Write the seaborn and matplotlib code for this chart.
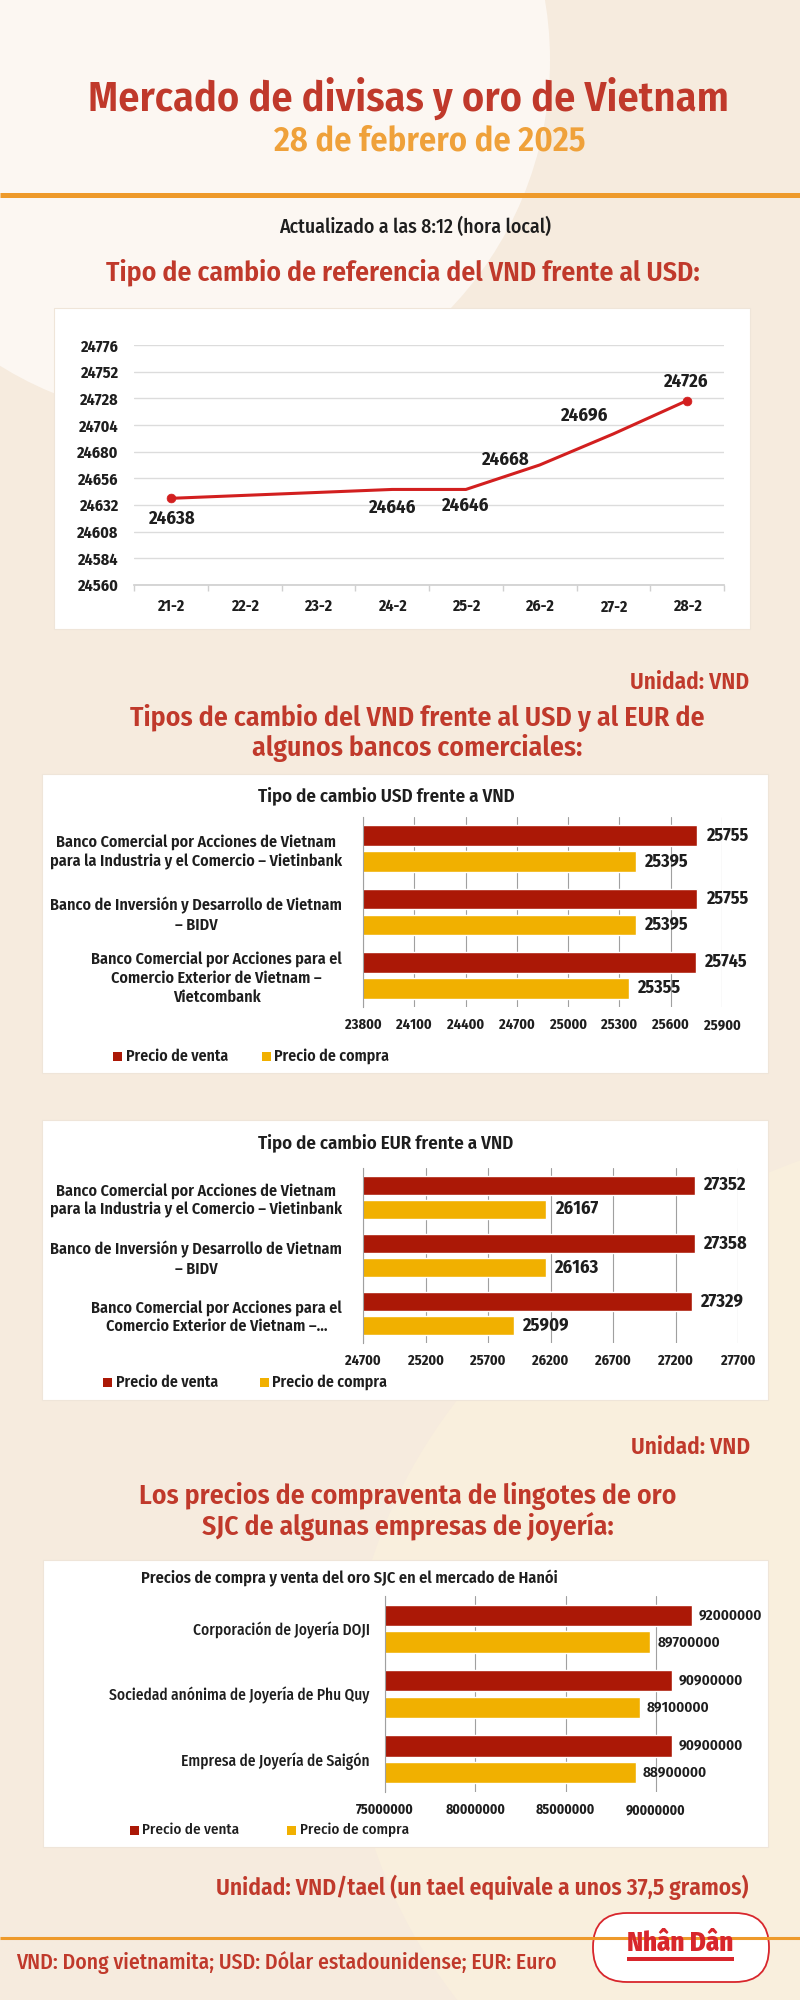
import numpy as np
import pandas as pd
import matplotlib
matplotlib.use("Agg")
import matplotlib.pyplot as plt
import matplotlib.patches as mpatches
from matplotlib import font_manager as fm
import seaborn as sns

# ---------------- data ----------------
ref_dates = ["21-2", "22-2", "23-2", "24-2", "25-2", "26-2", "27-2", "28-2"]
ref_rate = [24638, np.nan, np.nan, 24646, 24646, 24668, 24696, 24726]
ref_ticks = [24560, 24584, 24608, 24632, 24656, 24680, 24704, 24728, 24752, 24776]

usd_banks = [
    "Banco Comercial por Acciones de Vietnam\npara la Industria y el Comercio – Vietinbank",
    "Banco de Inversión y Desarrollo de Vietnam\n– BIDV",
    "Banco Comercial por Acciones para el\nComercio Exterior de Vietnam –\nVietcombank",
]
usd_venta = [25755, 25755, 25745]
usd_compra = [25395, 25395, 25355]
usd_ticks = [23800, 24100, 24400, 24700, 25000, 25300, 25600, 25900]

eur_banks = [
    "Banco Comercial por Acciones de Vietnam\npara la Industria y el Comercio – Vietinbank",
    "Banco de Inversión y Desarrollo de Vietnam\n– BIDV",
    "Banco Comercial por Acciones para el\nComercio Exterior de Vietnam –...",
]
eur_venta = [27352, 27358, 27329]
eur_compra = [26167, 26163, 25909]
eur_ticks = [24700, 25200, 25700, 26200, 26700, 27200, 27700]

gold_firms = [
    "Corporación de Joyería DOJI",
    "Sociedad anónima de Joyería de Phu Quy",
    "Empresa de Joyería de Saigón",
]
gold_venta = [92000000, 90900000, 90900000]
gold_compra = [89700000, 89100000, 88900000]
gold_ticks = [75000000, 80000000, 85000000, 90000000]

series_names = ["Precio de venta", "Precio de compra"]

# ---------------- style ----------------
sns.set_theme(style="white")
names = {f.name for f in fm.fontManager.ttflist}
FONT = "Fira Sans Condensed" if "Fira Sans Condensed" in names else "Roboto"
plt.rcParams["font.family"] = [FONT, "DejaVu Sans"]

BG = "#F6EBDE"
RED_T = "#C0392B"
ORANGE = "#EFA13A"
RED_BAR = "#AB1806"
YEL = "#F1B000"
LINE_RED = "#D21F1F"
DARK = "#1E1E1E"

W, H = 800, 2000
fig = plt.figure(figsize=(8, 20), dpi=100)
fig.patch.set_facecolor(BG)
renderer = fig.canvas.get_renderer()


def size_for(s, target_px, weight="bold"):
    t = fig.text(0, 0, s, fontsize=10, fontweight=weight)
    w = t.get_window_extent(renderer=renderer).width
    t.remove()
    return 10.0 * target_px / w


def add_axes_px(x0, y0, x1, y1):
    return fig.add_axes([x0 / W, 1 - y1 / H, (x1 - x0) / W, (y1 - y0) / H])


bg = fig.add_axes([0, 0, 1, 1])
bg.set_zorder(-1)
bg.set_xlim(0, W)
bg.set_ylim(H, 0)
bg.axis("off")

# decorative background shapes
bg.add_patch(mpatches.Ellipse((190, 60), 720, 720, facecolor="#FCF7F2", edgecolor="none"))
bg.add_patch(mpatches.Ellipse((1150, 1700), 1600, 1200, facecolor="#F9EFDD", edgecolor="none"))

# white panels
for (x0, y0, x1, y1) in [(54, 308, 750, 629), (42, 774, 768, 1073),
                         (42, 1120, 768, 1400), (43, 1560, 768, 1847)]:
    bg.add_patch(mpatches.Rectangle((x0, y0), x1 - x0, y1 - y0, facecolor="white",
                                    edgecolor="#EFE5D9", lw=0.8))

# rules
bg.plot([0, W], [195, 195], color="#EE9A2B", lw=3.6, solid_capstyle="butt")
bg.plot([0, W], [1938, 1938], color="#EE9A2B", lw=2.2, solid_capstyle="butt")


def txt(x, y, s, target_w, color, ha="center", weight="bold"):
    fs = size_for(s, target_w, weight)
    bg.text(x, y, s, fontsize=fs, color=color, ha=ha, va="center", fontweight=weight)
    return fs


txt(409, 98, "Mercado de divisas y oro de Vietnam", 644, RED_T, weight=600)
txt(430, 141, "28 de febrero de 2025", 315, ORANGE, weight=600)
txt(415, 227, "Actualizado a las 8:12 (hora local)", 272, DARK, weight=500)
txt(403, 272, "Tipo de cambio de referencia del VND frente al USD:", 596, RED_T, weight=600)
u_fs = txt(749, 682, "Unidad: VND", 119, RED_T, ha="right", weight=600)
s2 = txt(417, 718, "Tipos de cambio del VND frente al USD y al EUR de", 577, RED_T, weight=600)
bg.text(417, 748, "algunos bancos comerciales:", fontsize=s2, color=RED_T, ha="center",
        va="center", fontweight=600)
bg.text(750, 1447, "Unidad: VND", fontsize=u_fs, color=RED_T, ha="right", va="center",
        fontweight=600)
s3 = txt(408, 1496, "Los precios de compraventa de lingotes de oro", 540, RED_T, weight=600)
bg.text(408, 1526, "SJC de algunas empresas de joyería:", fontsize=s3, color=RED_T,
        ha="center", va="center", fontweight=600)
txt(749, 1887, "Unidad: VND/tael (un tael equivale a unos 37,5 gramos)", 535, RED_T,
    ha="right", weight=600)
txt(16, 1963, "VND: Dong vietnamita; USD: Dólar estadounidense; EUR: Euro", 541, RED_T,
    ha="left", weight=500)

# logo
bg.add_patch(mpatches.FancyBboxPatch((593, 1913), 176, 69,
                                     boxstyle="round,pad=0,rounding_size=34",
                                     facecolor="white", edgecolor="#D8262C", lw=1.3))
logo_fs = size_for("Nhân Dân", 107, weight="heavy")
bg.text(680, 1943, "Nhân Dân", fontsize=logo_fs, color="#D8262C", ha="center",
        va="center", fontweight="heavy")
bg.add_patch(mpatches.Rectangle((627, 1957), 107, 4, facecolor="#D8262C", edgecolor="none"))

# ---------------- line chart ----------------
ax1 = add_axes_px(134, 345, 724, 585)
ax1.patch.set_alpha(0)
df_ref = pd.DataFrame({"pos": range(len(ref_dates)), "fecha": ref_dates, "tasa": ref_rate}).dropna()
sns.lineplot(data=df_ref, x="pos", y="tasa", color=LINE_RED, lw=2.2, ax=ax1)
ends = df_ref.iloc[[0, -1]]
sns.scatterplot(data=ends, x="pos", y="tasa", color=LINE_RED, edgecolor=LINE_RED, s=40,
                ax=ax1, zorder=3)
ax1.set_xlim(-0.5, len(ref_dates) - 0.5)
ax1.set_ylim(ref_ticks[0], ref_ticks[-1])
ax1.set_yticks(ref_ticks)
ax1.set_xticks(range(len(ref_dates)))
ax1.set_xticklabels(ref_dates)
ax1.set_xticks(np.arange(-0.5, len(ref_dates), 1), minor=True)
ax1.set_xlabel("")
ax1.set_ylabel("")
ax1.grid(axis="y", color="#DCDCDC", lw=1)
for s in ["top", "right", "left"]:
    ax1.spines[s].set_visible(False)
ax1.spines["bottom"].set_color("#D0D0D0")
ytf = size_for("24776", 38)
xtf = size_for("21-2", 27.5)
ax1.tick_params(axis="y", length=0, pad=11, labelsize=ytf, labelcolor=DARK)
ax1.tick_params(axis="x", which="major", length=0, pad=10, labelsize=xtf, labelcolor=DARK)
ax1.tick_params(axis="x", which="minor", bottom=True, length=4, color="#D0D0D0")
for lbl in ax1.get_xticklabels() + ax1.get_yticklabels():
    lbl.set_fontweight("bold")
lab_fs = size_for("24638", 47)
label_offsets = [(0, -14.5), None, None, (0, -13), (-1, -11.5), (-25, 3.5), (-21, 13), (-1.5, 13.7)]
for i, (d, v) in enumerate(zip(ref_dates, ref_rate)):
    if np.isnan(v):
        continue
    ax1.annotate(f"{int(v)}", (i, v), xytext=label_offsets[i], textcoords="offset points",
                 ha="center", va="center", fontsize=lab_fs, fontweight="bold", color=DARK)


# ---------------- bar charts ----------------
def bar_panel(axrect, cats, venta, compra, ticks, xlim, cat_ref, cat_w, tick_w, val_w,
              cat_pad, val_pad, legend_pos, leg_w, cat_weight=600, val_weight="bold",
              leg_weight=600):
    ax = add_axes_px(*axrect)
    ax.patch.set_alpha(0)
    n = len(cats)
    df = pd.DataFrame({
        "cat": cats * 2,
        "serie": [series_names[0]] * n + [series_names[1]] * n,
        "valor": list(venta) + list(compra),
    })
    sns.barplot(data=df, x="valor", y="cat", hue="serie", hue_order=series_names,
                order=cats, palette=[RED_BAR, YEL], orient="h", width=0.82, gap=0.2,
                saturation=1, errorbar=None, legend=False, ax=ax)
    ax.set_xlim(*xlim)
    ax.set_xticks(ticks)
    ax.set_xticklabels([str(t) for t in ticks])
    ax.set_xlabel("")
    ax.set_ylabel("")
    ax.set_axisbelow(True)
    ax.grid(axis="x", color="#A0A0A0", lw=0.8)
    ax.grid(axis="y", visible=False)
    for s in ["top", "right", "bottom"]:
        ax.spines[s].set_visible(False)
    ax.spines["left"].set_color("#A0A0A0")
    ax.spines["left"].set_linewidth(0.8)
    cfs = size_for(cat_ref, cat_w, cat_weight)
    tfs = size_for(str(ticks[0]), tick_w)
    vfs = size_for(str(venta[0]), val_w, val_weight)
    ax.tick_params(axis="y", length=0, pad=cat_pad, labelsize=cfs, labelcolor=DARK)
    ax.tick_params(axis="x", length=0, pad=8, labelsize=tfs, labelcolor=DARK)
    for lbl in ax.get_yticklabels():
        lbl.set_multialignment("center")
        lbl.set_fontweight(cat_weight)
        lbl.set_linespacing(1.25)
    for lbl in ax.get_xticklabels():
        lbl.set_fontweight("bold")
    for c in ax.containers:
        ax.bar_label(c, fmt="%d", padding=val_pad, fontsize=vfs, fontweight=val_weight,
                     color=DARK)
    # legend keys
    lfs = size_for(series_names[0], leg_w, leg_weight)
    ly = legend_pos[0]
    for (sx, colr, name) in zip(legend_pos[1:], [RED_BAR, YEL], series_names):
        bg.add_patch(mpatches.Rectangle((sx - 4.5, ly - 4.5), 9, 9, facecolor=colr,
                                        edgecolor="none", zorder=3))
        bg.text(sx + 8.5, ly, name, fontsize=lfs, color=DARK, ha="left", va="center",
                fontweight=leg_weight)
    return ax


# USD
ct_fs = size_for("Tipo de cambio USD frente a VND", 259, 600)
bg.text(386, 796, "Tipo de cambio USD frente a VND", fontsize=ct_fs, color=DARK,
        ha="center", va="center", fontweight=600)
bar_panel((363, 817, 722, 1007), usd_banks, usd_venta, usd_compra, usd_ticks,
          (usd_ticks[0], usd_ticks[-1]), "Banco Comercial por Acciones de Vietnam",
          282, 37, 43, 15, 6, (1056, 117, 266), 103)

# EUR
bg.text(386, 1143, "Tipo de cambio EUR frente a VND", fontsize=ct_fs, color=DARK,
        ha="center", va="center", fontweight=600)
bar_panel((363, 1168, 738, 1343), eur_banks, eur_venta, eur_compra, eur_ticks,
          (eur_ticks[0], eur_ticks[-1]), "Banco Comercial por Acciones de Vietnam",
          282, 36, 43, 15, 6, (1382, 107, 264), 103)

# Gold
gt = "Precios de compra y venta del oro SJC en el mercado de Hanói"
bg.text(141, 1578, gt, fontsize=size_for(gt, 420, 600), color=DARK, ha="left", va="center",
        fontweight=600)
bar_panel((385, 1596, 710, 1792), gold_firms, gold_venta, gold_compra, gold_ticks,
          (75000000, 93000000), "Corporación de Joyería DOJI", 177, 58, 65, 11, 5,
          (1830, 134, 291), 97, cat_weight=500, val_weight=600, leg_weight=500)

fig.savefig("out.png", dpi=100, facecolor=fig.get_facecolor())
